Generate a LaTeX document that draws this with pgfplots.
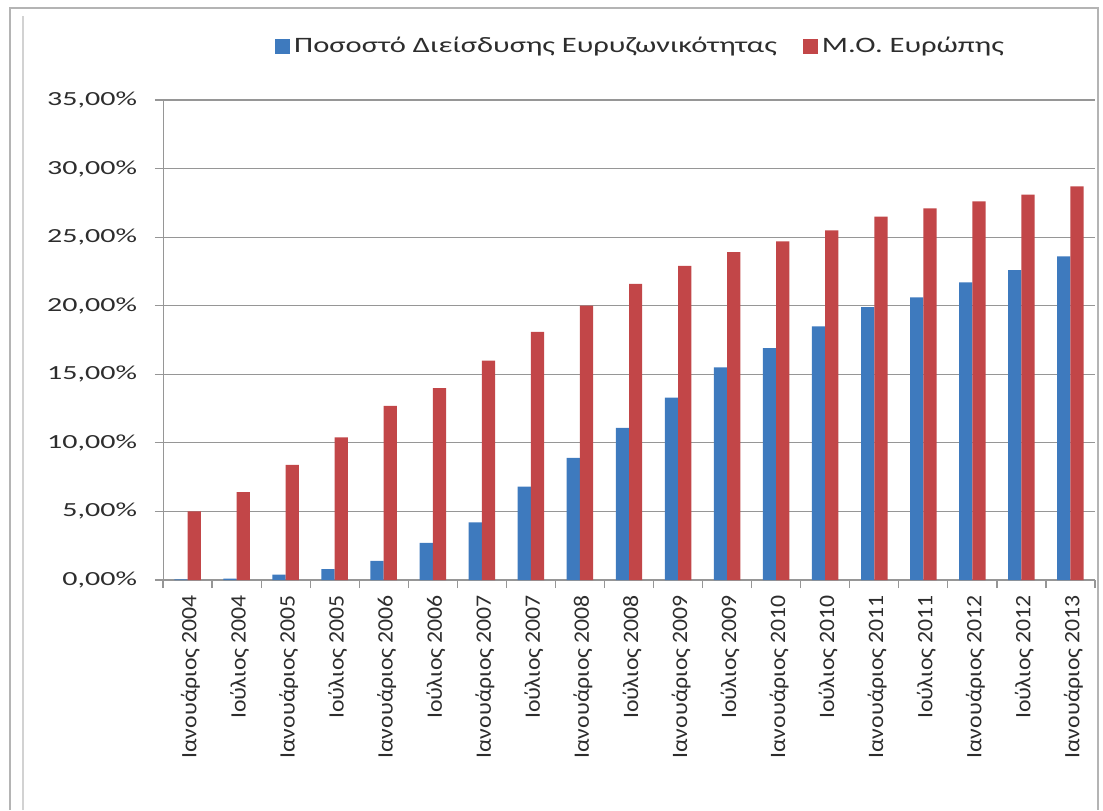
\documentclass[border=0pt]{standalone}
\usepackage{fontspec}
\setmainfont{Carlito}
\newfontfamily\tickfont{Carlito}[FakeStretch=1.5]
\newfontfamily\catfont{Carlito}[FakeStretch=1.08]
\newfontfamily\legfont{Carlito}[FakeStretch=1.39]
\usepackage{pgfplots}
\pgfplotsset{compat=1.18}
\definecolor{serA}{RGB}{62,122,190}
\definecolor{serB}{RGB}{194,70,72}
\definecolor{gridc}{RGB}{150,150,150}
\definecolor{framec}{RGB}{180,180,180}
\definecolor{txt}{RGB}{45,45,45}

\begin{document}
\begin{tikzpicture}
\useasboundingbox (0,0) rectangle (551.5pt,405pt);
% window frame around the chart
\draw[framec, line width=0.9pt] (5pt,0) -- (5pt,401pt) -- (549pt,401pt) -- (549pt,0);
\draw[framec!60, line width=0.7pt] (11.5pt,0) -- (11.5pt,397pt);
\begin{axis}[
  at={(81.5pt,115pt)}, anchor=south west,
  scale only axis, width=466pt, height=240pt,
  ybar=0pt, bar width=0.27,
  xmin=-0.5, xmax=18.5, ymin=0, ymax=35,
  axis x line*=bottom, axis y line*=left,
  axis line style={gridc, -},
  tick align=outside,
  major tick style={gridc, line width=0.6pt},
  major tick length=4pt,
  xtick={-0.5,0.5,...,18.5},
  x tick label as interval,
  xticklabels={Ιανουάριος 2004, Ιούλιος 2004, Ιανουάριος 2005, Ιούλιος 2005,
    Ιανουάριος 2006, Ιούλιος 2006, Ιανουάριος 2007, Ιούλιος 2007,
    Ιανουάριος 2008, Ιούλιος 2008, Ιανουάριος 2009, Ιούλιος 2009,
    Ιανουάριος 2010, Ιούλιος 2010, Ιανουάριος 2011, Ιούλιος 2011,
    Ιανουάριος 2012, Ιούλιος 2012, Ιανουάριος 2013},
  xticklabel style={rotate=90, anchor=east, text=txt, yshift=-1.5pt,
    font=\catfont\fontsize{11}{13}\selectfont},
  ytick={0,5,...,35},
  yticklabels={{0,00\%},{5,00\%},{10,00\%},{15,00\%},{20,00\%},{25,00\%},{30,00\%},{35,00\%}},
  yticklabel style={text=txt, xshift=-5.5pt, font=\tickfont\fontsize{10}{12}\selectfont},
  ymajorgrids,
  grid style={gridc, line width=0.6pt},
  legend columns=2,
  legend style={at={(rel axis cs:0.12,1)}, anchor=west, yshift=27pt,
    draw=none, fill=none, inner sep=0pt,
    font=\legfont\fontsize{11}{13}\selectfont, text=txt,
    /tikz/every even column/.append style={column sep=11pt}},
  legend image code/.code={\fill[#1] (0pt,-3.75pt) rectangle (7.5pt,3.75pt);},
]
\addplot[fill=serA, draw=none] coordinates {
  (0,0.05) (1,0.1) (2,0.4) (3,0.8) (4,1.4) (5,2.7) (6,4.2) (7,6.8)
  (8,8.9) (9,11.1) (10,13.3) (11,15.5) (12,16.9) (13,18.5) (14,19.9)
  (15,20.6) (16,21.7) (17,22.6) (18,23.6)};
\addlegendentry{Ποσοστό Διείσδυσης Ευρυζωνικότητας}
\addplot[fill=serB, draw=none] coordinates {
  (0,5.0) (1,6.4) (2,8.4) (3,10.4) (4,12.7) (5,14.0) (6,16.0) (7,18.1)
  (8,20.0) (9,21.6) (10,22.9) (11,23.9) (12,24.7) (13,25.5) (14,26.5)
  (15,27.1) (16,27.6) (17,28.1) (18,28.7)};
\addlegendentry{Μ.Ο. Ευρώπης}
\end{axis}
\end{tikzpicture}
\end{document}
